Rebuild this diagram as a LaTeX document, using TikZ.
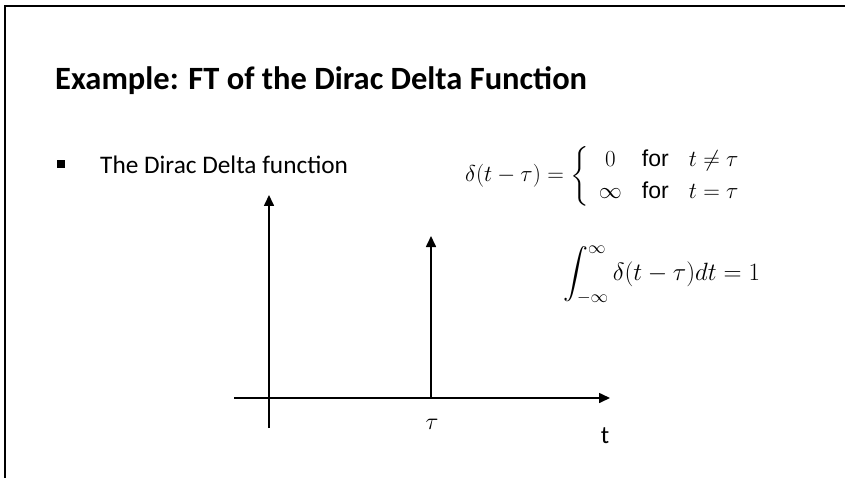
\RequirePackage{fix-cm}
\documentclass[tikz,border=0pt]{standalone}
\usepackage{amsmath}
\usepackage{fontspec}
\setmainfont{Carlito}
\newfontfamily\forfont{Liberation Sans}
\usetikzlibrary{arrows.meta,positioning}

\begin{document}
\begin{tikzpicture}[
        x=1pt, y=-1pt,
        axis/.style={line width=1.6pt, -{Triangle[length=11pt,width=10pt]}},
        plain/.style={line width=1.6pt}
    ]
        \useasboundingbox (0,0) rectangle (845,478);
        
        % slide frame
        \draw[line width=2.5pt] (5,478) -- (5,6) -- (845,6);
        
        % title and bullet
        \node[anchor=base west, inner sep=0pt, font=\fontsize{32.5}{36}\selectfont\bfseries] (title) at (55,90) {Example: FT of the Dirac Delta Function};
        \node[anchor=center, inner sep=0pt] (bullet) at (61,164) {\rule{8pt}{8pt}};
        \node[anchor=base west, inner sep=0pt, font=\fontsize{25.3}{28}\selectfont] (text) at (100,174) {The Dirac Delta function};
        
        % definition
        \node[anchor=west, inner sep=0pt, font=\fontsize{23}{32}\selectfont] (defn) at (465,176)
            {$\delta(t-\tau) = \left\{\setlength{\arraycolsep}{10pt}\begin{array}{ccl} 0 & \text{\fontsize{23}{32}\forfont for} & t \neq \tau \\ \infty & \text{\fontsize{23}{32}\forfont for} & t = \tau \end{array}\right.$};
        \node[anchor=west, inner sep=0pt, font=\fontsize{25}{29}\selectfont] (integ) at (563,275)
            {$\displaystyle\int_{-\infty}^{\infty} \delta(t-\tau)dt = 1$};
        
        % axes
        \coordinate (origin) at (269,398);
        \coordinate (xstart) at (234,398);
        \coordinate (xend) at (610,398);
        \coordinate (ybottom) at (269,428);
        \coordinate (ytop) at (269,195);
        \coordinate (tau) at (431,398);
        \coordinate (tautop) at (431,236);
        
        \draw[plain] (xstart) -- (origin);
        \draw[axis] (origin) -- (xend);
        \draw[axis] (ybottom) -- (ytop);
        \draw[axis] (tau) -- (tautop);
        
        \node[font=\fontsize{24}{26}\selectfont] (taulabel) at (432,424) {$\tau$};
        \node[font=\fontsize{25}{27}\selectfont] (tlabel) at (605,436) {t};
        
    \end{tikzpicture}
\end{document}
